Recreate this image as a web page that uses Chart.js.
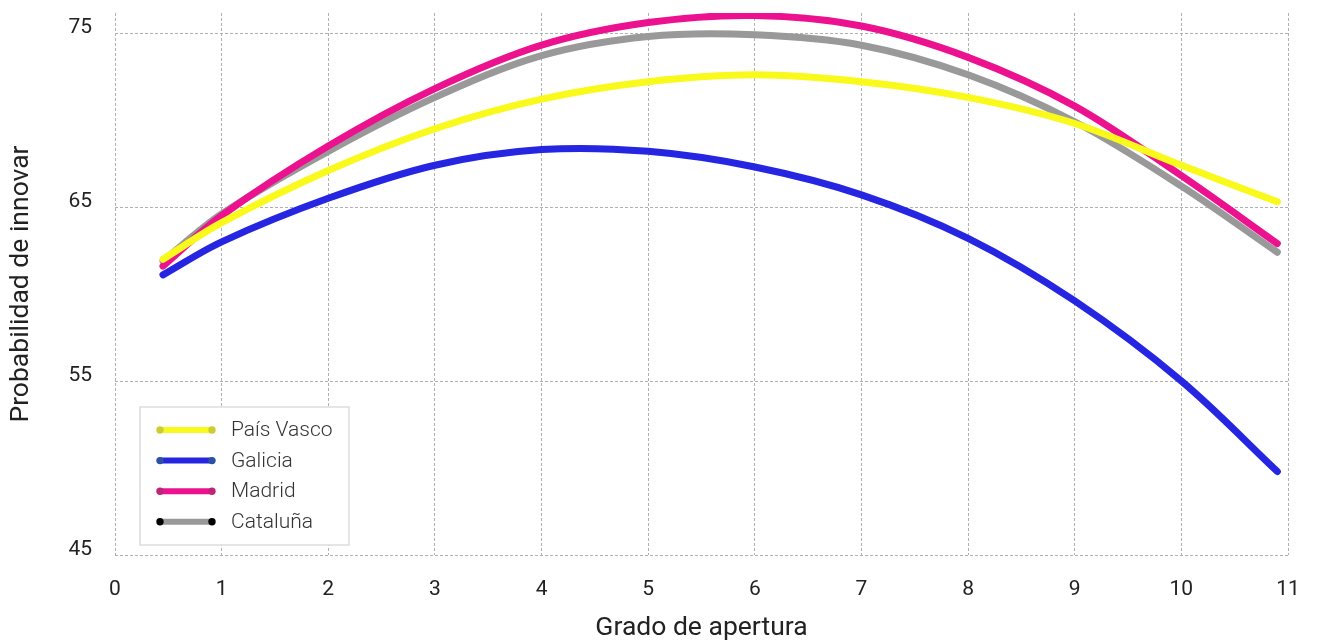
<!DOCTYPE html>
<html>
<head>
<meta charset="utf-8">
<script src="https://cdn.jsdelivr.net/npm/chart.js@4/dist/chart.umd.min.js"></script>
<style>
  html, body { margin: 0; padding: 0; background: #fff; }
  #wrap { width: 1320px; height: 640px; position: relative; }
</style>
</head>
<body>
<div id="wrap"><canvas id="apertura_chart"></canvas></div>
<script>
"use strict"

// grado de apertura (x) and probability by region
var xValues   = [0.45, 1, 2, 3, 4, 5, 6, 7, 8, 9, 10, 10.9];
var paisVasco = [62.0, 64.1, 67.1, 69.5, 71.2, 72.2, 72.6, 72.2, 71.3, 69.8, 67.4, 65.3];
var galicia   = [61.1, 63.0, 65.5, 67.4, 68.3, 68.2, 67.3, 65.7, 63.2, 59.6, 55.0, 49.8];
var madrid    = [61.6, 64.5, 68.5, 71.8, 74.3, 75.6, 76.0, 75.4, 73.6, 70.8, 66.8, 62.9];
var cataluna  = [61.9, 64.6, 68.2, 71.3, 73.7, 74.8, 74.9, 74.3, 72.6, 69.9, 66.2, 62.4];

var regionNames = ["País Vasco", "Galicia", "Madrid", "Cataluña"];
var yTicks = [45, 55, 65, 75];

function toPoints(values) {
    return values.map(function(v, i){ return {x: xValues[i], y: v}; });
}

function makeDataset(label, values, color, dotColor) {
    return {
        label: label,
        data: toPoints(values),
        borderColor: color,
        backgroundColor: color,
        dotColor: dotColor,
        borderWidth: 7,
        borderCapStyle: 'round',
        borderJoinStyle: 'round',
        fill: false,
        tension: 0.333,
        pointRadius: 0,
        pointHoverRadius: 0
    };
}

// legend drawn inside the plot, bottom left
var insideLegend = {
    id: 'insideLegend',
    afterDraw: function(chart) {
        var ctx = chart.ctx;
        var area = chart.chartArea;
        var left = area.left + 25, top = area.bottom - 148;
        var w = 209, h = 138;
        ctx.save();
        ctx.fillStyle = '#fff';
        ctx.strokeStyle = '#dddddd';
        ctx.lineWidth = 1.5;
        ctx.fillRect(left, top, w, h);
        ctx.strokeRect(left, top, w, h);
        ctx.font = '300 21px Roboto';
        ctx.textBaseline = 'middle';
        chart.data.datasets.forEach(function(ds, i){
            var y = top + 23 + i * 30.6;
            ctx.strokeStyle = ds.borderColor;
            ctx.lineWidth = 6;
            ctx.lineCap = 'butt';
            ctx.beginPath();
            ctx.moveTo(left + 20, y);
            ctx.lineTo(left + 72, y);
            ctx.stroke();
            ctx.fillStyle = ds.dotColor;
            [left + 20, left + 72].forEach(function(cx){
                ctx.beginPath();
                ctx.arc(cx, y, 3.7, 0, Math.PI * 2);
                ctx.fill();
            });
            ctx.fillStyle = '#333';
            ctx.fillText(ds.label, left + 91, y + 1);
        });
        ctx.restore();
    }
};

var gridStyle = {
    color: '#b0b0b0',
    lineWidth: 1,
    drawTicks: false
};

var ctx = document.getElementById("apertura_chart");
var aperturaChart = new Chart(ctx, {
    type: 'line',
    data: {
        datasets: [
            makeDataset(regionNames[0], paisVasco, '#f9f91b', '#cccc33'),
            makeDataset(regionNames[1], galicia, '#2525e2', '#2b50a6'),
            makeDataset(regionNames[2], madrid, '#ec118f', '#c02479'),
            makeDataset(regionNames[3], cataluna, '#999999', '#000000')
        ]
    },
    options: {
        responsive: true,
        maintainAspectRatio: false,
        animation: false,
        layout: { padding: { top: 13, right: 32, left: 0, bottom: 0 } },
        plugins: {
            legend: { display: false },
            tooltip: { enabled: false }
        },
        scales: {
            x: {
                type: 'linear',
                min: 0,
                max: 11,
                ticks: {
                    stepSize: 1,
                    padding: 22,
                    color: '#222',
                    font: { family: 'Roboto', size: 21 }
                },
                grid: gridStyle,
                border: { display: false, dash: [3, 2] },
                title: {
                    display: true,
                    text: 'Grado de apertura',
                    color: '#222',
                    font: { family: 'Roboto', size: 26.5 },
                    padding: { top: 0, bottom: -4 }
                },
                afterFit: function(scale){
                    scale.height = 85;
                    scale.paddingLeft = 0;
                    scale.paddingRight = 0;
                }
            },
            y: {
                min: 45,
                max: 76.15,
                ticks: {
                    stepSize: 10,
                    padding: 23,
                    labelOffset: -5,
                    color: '#222',
                    font: { family: 'Roboto', size: 21 }
                },
                afterBuildTicks: function(scale){
                    scale.ticks = yTicks.map(function(v){ return {value: v}; });
                },
                grid: gridStyle,
                border: { display: false, dash: [3, 2] },
                title: {
                    display: true,
                    text: 'Probabilidad de innovar',
                    color: '#222',
                    font: { family: 'Roboto', size: 26.5 },
                    padding: { top: 5, bottom: 0 }
                },
                afterFit: function(scale){
                    scale.width = 115;
                    scale.paddingTop = 0;
                    scale.paddingBottom = 0;
                }
            }
        }
    },
    plugins: [insideLegend]
});
</script>
</body>
</html>
